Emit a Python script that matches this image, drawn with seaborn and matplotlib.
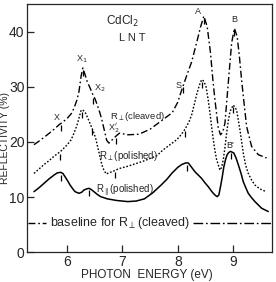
import numpy as np
import pandas as pd
import matplotlib
matplotlib.use("Agg")
import matplotlib.pyplot as plt
import seaborn as sns

# R_perp (cleaved), dash-dot curve
e_cleaved = [5.41, 5.52, 5.65, 5.76, 5.86, 5.94, 6.01, 6.08, 6.13, 6.18, 6.22, 6.26, 6.29,
             6.33, 6.37, 6.42, 6.46, 6.51, 6.55, 6.60, 6.64, 6.68, 6.72, 6.76, 6.82, 6.88,
             6.95, 7.10, 7.30, 7.50, 7.70, 7.90, 8.00, 8.07, 8.16, 8.25, 8.34, 8.41, 8.47,
             8.53, 8.59, 8.63, 8.67, 8.73, 8.77, 8.81, 8.85, 8.91, 8.97, 9.02, 9.07, 9.11,
             9.15, 9.20, 9.24, 9.33, 9.45, 9.60]
r_cleaved = [19.5, 20.3, 21.3, 22.2, 23.1, 23.7, 24.3, 25.1, 26.1, 27.5, 29.1, 32.0, 33.4,
             32.2, 30.9, 29.8, 28.8, 27.8, 26.7, 25.2, 23.7, 22.0, 20.3, 19.8, 20.4, 21.0,
             21.6, 21.3, 21.4, 22.3, 23.8, 25.3, 27.2, 29.4, 32.0, 34.5, 38.0, 40.8, 42.8,
             40.9, 36.1, 31.5, 27.6, 22.5, 21.3, 21.8, 23.4, 30.7, 37.9, 40.6, 39.1, 35.5,
             31.2, 26.5, 22.8, 19.2, 17.7, 17.1]

# R_perp (polished), dotted curve
e_perp = [5.41, 5.50, 5.59, 5.68, 5.77, 5.89, 6.01, 6.08, 6.13, 6.18, 6.22, 6.26, 6.30,
          6.34, 6.38, 6.43, 6.48, 6.52, 6.56, 6.59, 6.62, 6.65, 6.71, 6.78, 6.82, 6.88,
          6.95, 7.10, 7.25, 7.40, 7.55, 7.62, 7.74, 7.86, 7.98, 8.06, 8.13, 8.20, 8.25,
          8.30, 8.34, 8.39, 8.43, 8.47, 8.51, 8.55, 8.58, 8.61, 8.64, 8.67, 8.70, 8.76,
          8.79, 8.82, 8.85, 8.88, 8.91, 8.94, 9.00, 9.06, 9.12, 9.18, 9.22, 9.27, 9.33,
          9.39, 9.48, 9.59]
r_perp = [14.3, 15.1, 15.9, 16.6, 17.4, 18.3, 19.5, 20.4, 21.6, 22.9, 24.3, 25.8, 25.7,
          25.2, 24.3, 23.1, 21.9, 20.7, 19.0, 17.7, 16.4, 15.3, 14.2, 14.5, 14.6, 14.9,
          15.2, 15.6, 16.1, 16.6, 17.2, 17.5, 18.6, 19.5, 20.4, 21.3, 22.3, 23.6, 24.9,
          26.9, 28.6, 30.3, 31.3, 31.0, 30.0, 27.5, 25.2, 22.8, 20.4, 18.4, 16.8, 14.9,
          15.4, 16.8, 19.0, 21.6, 23.8, 25.5, 26.7, 25.8, 22.2, 18.0, 15.9, 14.3, 13.1,
          12.2, 11.5, 11.0]

# R_par (polished), solid curve
e_par = [5.41, 5.50, 5.59, 5.68, 5.77, 5.83, 5.89, 5.93, 5.97, 6.02, 6.06, 6.11, 6.15,
         6.22, 6.27, 6.31, 6.36, 6.40, 6.44, 6.49, 6.55, 6.61, 6.73, 6.90, 7.10, 7.25,
         7.40, 7.55, 7.70, 7.80, 7.90, 8.00, 8.07, 8.14, 8.19, 8.25, 8.31, 8.37, 8.43,
         8.49, 8.55, 8.60, 8.64, 8.68, 8.71, 8.74, 8.77, 8.80, 8.83, 8.86, 8.89, 8.92,
         8.95, 9.01, 9.05, 9.09, 9.14, 9.18, 9.23, 9.27, 9.33, 9.39, 9.51, 9.63]
r_par = [11.0, 11.7, 12.5, 13.3, 14.0, 14.4, 14.5, 14.3, 13.7, 12.9, 12.2, 11.5, 11.0,
         10.7, 10.9, 11.3, 11.5, 11.6, 11.4, 11.0, 10.5, 10.1, 9.7, 9.4, 9.2, 9.3,
         9.7, 10.8, 12.2, 13.2, 14.4, 15.4, 15.9, 16.2, 16.2, 15.4, 14.6, 14.0, 13.4,
         12.6, 11.9, 11.2, 10.7, 10.3, 10.1, 10.4, 11.9, 13.6, 15.5, 16.8, 17.7, 18.1,
         18.3, 18.0, 17.1, 15.9, 14.3, 12.8, 11.6, 10.7, 9.9, 9.2, 8.0, 7.4]

baseline_r = 5.3

# energies of the small peak ticks on each curve
marks_cleaved = [5.90, 6.29, 6.48, 6.88, 8.10, 8.47, 9.02]
marks_perp = [5.88, 6.27, 6.45, 6.87, 8.13, 8.44, 9.00]
marks_par = [5.90, 6.40, 8.17, 8.95]

sns.set_style("ticks")
plt.rcParams["font.family"] = ["Liberation Sans", "DejaVu Sans"]
plt.rcParams["mathtext.fontset"] = "dejavusans"

fig = plt.figure(figsize=(2.76, 2.82), dpi=100)
ax = fig.add_axes([0.099, 0.105, 0.887, 0.881])

lw = 1.0
sns.lineplot(x=e_cleaved, y=r_cleaved, ax=ax, color="black", lw=lw, sort=False,
             estimator=None)
ax.lines[-1].set_dashes([5, 2, 1.2, 2])
sns.lineplot(x=e_perp, y=r_perp, ax=ax, color="black", lw=lw, sort=False, estimator=None)
ax.lines[-1].set_dashes([1.2, 1.3])
sns.lineplot(x=e_par, y=r_par, ax=ax, color="black", lw=1.1, sort=False, estimator=None)

# baseline for R_perp (cleaved), broken by its label
ax.plot([5.30, 5.62], [baseline_r, baseline_r], color="black", lw=lw, dashes=[5, 2, 1.2, 2])
ax.plot([8.28, 9.70], [baseline_r, baseline_r], color="black", lw=lw, dashes=[7, 2, 1.2, 2])
ax.text(6.95, baseline_r, r"baseline for R$_\perp$(cleaved)", fontsize=9,
        ha="center", va="center")

# peak ticks
for es, ee, rr in [(marks_cleaved, e_cleaved, r_cleaved),
                   (marks_perp, e_perp, r_perp),
                   (marks_par, e_par, r_par)]:
    ax.plot(es, np.interp(es, ee, rr) - 0.9, ls="none", marker="|", ms=4,
            mew=0.9, color="black")

# labels
ax.text(7.01, 41.8, r"CdCl$_2$", fontsize=8.5, ha="center", va="center")
ax.text(7.18, 38.9, "L N T", fontsize=8, ha="center", va="center")
small = dict(fontsize=6.5, ha="center", va="center")
ax.text(6.28, 35.0, r"X$_1$", **small)
ax.text(6.60, 29.8, r"X$_2$", **small)
ax.text(5.82, 24.4, "X", **small)
ax.text(6.84, 22.5, r"X$_2'$", **small)
ax.text(8.01, 30.3, "S", **small)
ax.text(8.37, 43.7, "A", **small)
ax.text(9.01, 42.1, "B", **small)
ax.text(8.95, 19.4, "B'", **small)
ax.text(7.27, 24.7, r"R$_\perp$(cleaved)", fontsize=6.8, ha="center", va="center")
ax.text(7.11, 17.5, r"R$_\perp$(polished)", fontsize=7, ha="center", va="center")
ax.text(7.05, 11.1, r"R$_\parallel$(polished)", fontsize=7, ha="center", va="center")

ax.set_xlim(5.29, 9.70)
ax.set_ylim(0, 45)
ax.set_xticks([6, 7, 8, 9])
ax.set_yticks([0, 10, 20, 30, 40])
ax.tick_params(direction="in", length=5, width=0.9, labelsize=10, pad=2)
for s in ax.spines.values():
    s.set_linewidth(0.9)
ax.set_xlabel("PHOTON  ENERGY (eV)", fontsize=8.5)
ax.set_ylabel("REFLECTIVITY (%)", fontsize=7.5)
ax.xaxis.set_label_coords(0.49, -0.066)
ax.yaxis.set_label_coords(-0.071, 0.46)

fig.savefig("out.png", dpi=100)
